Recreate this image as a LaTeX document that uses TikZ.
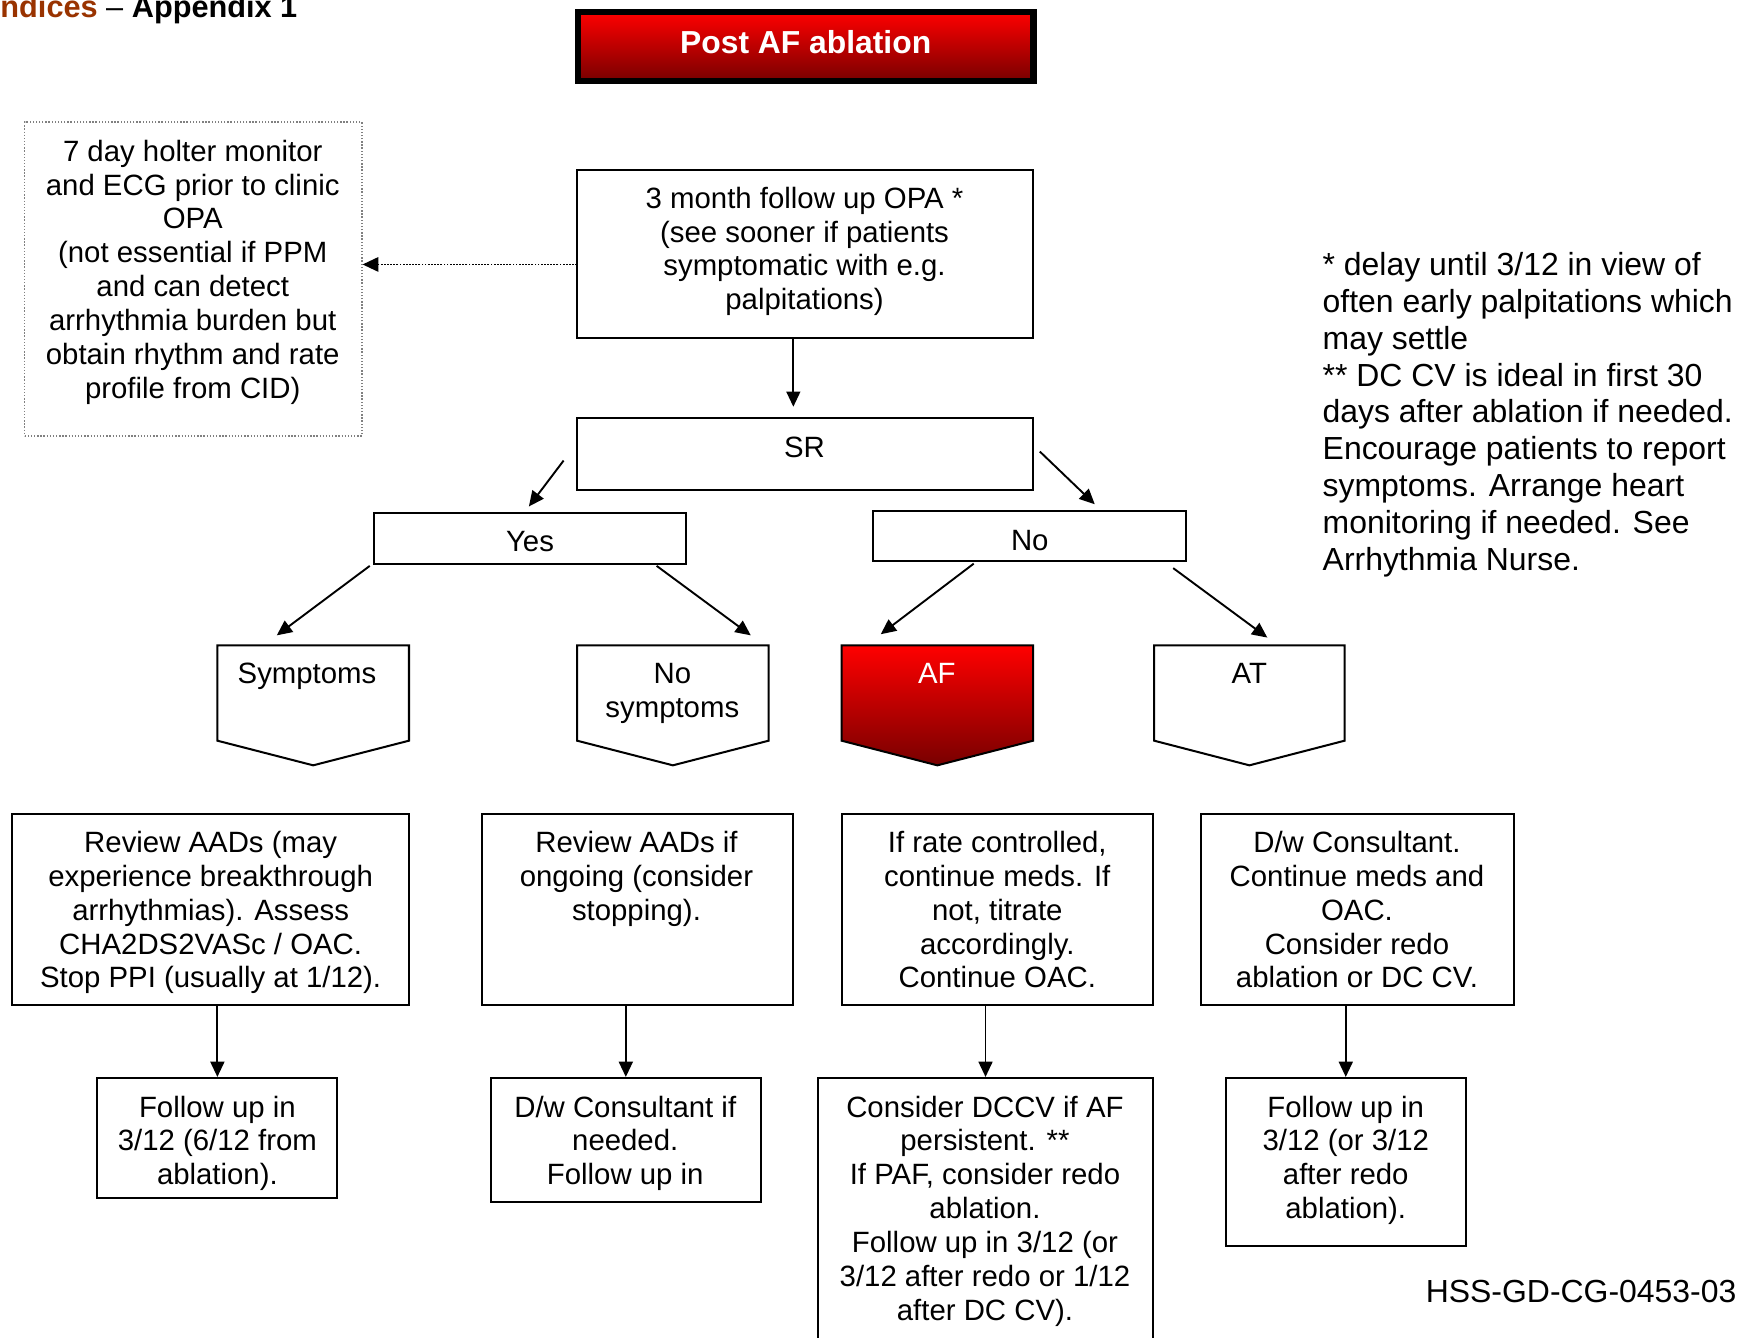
\documentclass[tikz,border=0pt]{standalone}
\usepackage{fontspec}
\setmainfont{Liberation Sans}
\usetikzlibrary{arrows.meta,fit}
\definecolor{hdrcol}{RGB}{153,51,0}
\definecolor{dkred}{RGB}{120,0,0}
\newcommand\bodyfnt{\fontsize{13.1pt}{15.1pt}\selectfont}
\newcommand\notefnt{\fontsize{14.25pt}{16.45pt}\selectfont}
\begin{document}
\begin{tikzpicture}[x=0.5pt,y=-0.5pt,
  box/.style={draw, line width=0.9pt, inner sep=0pt},
  txt/.style={inner sep=0pt, align=center, font=\bodyfnt, anchor=north},
  arr/.style={line width=0.85pt, -{Triangle[length=6.8pt,width=6.2pt]}},
  darr/.style={line width=0.8pt, dash pattern=on 0.8pt off 0.6pt, -{Triangle[length=7pt,width=6.4pt]}},
  penta/.style={draw, line width=0.9pt},
]
\useasboundingbox (0,0) rectangle (1568,1194);
\clip (0,0) rectangle (1568,1194);

% heading
\node[anchor=base west, inner sep=0pt, font=\bfseries\fontsize{13.7pt}{16pt}\selectfont] (hdr) at (0,15.5) {\textcolor{hdrcol}{ndices} {\mdseries --} Appendix 1};

% title
\node[fit={(515.7,10.7) (922.3,72.3)}, inner sep=0pt, draw=black, line width=2.7pt, top color=red, bottom color=dkred] (title) {};
\node[inner sep=0pt, text=white, font=\bfseries\fontsize{14.2pt}{17pt}\selectfont] (titlet) at (719,38) {Post AF ablation};

% top box
\node[box, fit={(515,152) (922,302)}] (opa) {};
\node[txt] (opat) at (718,166.5) {3 month follow up OPA *\\(see sooner if patients\\symptomatic with e.g.\\palpitations)};

% holter box
\node[box, draw=gray, line width=0.6pt, dash pattern=on 0.6pt off 0.8pt, fit={(22,109) (323,389)}] (holter) {};
\node[txt] (holtert) at (172,124.5) {7 day holter monitor\\and ECG prior to clinic\\OPA\\(not essential if PPM\\and can detect\\arrhythmia burden but\\obtain rhythm and rate\\profile from CID)};

% SR, Yes, No
\node[box, fit={(515,373) (922,437)}] (sr) {};
\node[txt] (srt) at (718,389.5) {SR};
\node[box, fit={(334,458) (612,503)}] (yes) {};
\node[txt] (yest) at (473,473.5) {Yes};
\node[box, fit={(779,456) (1058,501)}] (no) {};
\node[txt] (not) at (919,472.5) {No};

% pentagons
\draw[penta] (194,576) -- (365,576) -- (365,661) -- (279.5,683) -- (194,661) -- cycle;
\node[txt] (sym) at (274,591.5) {Symptoms};
\draw[penta] (515,576) -- (686,576) -- (686,661) -- (600.5,683) -- (515,661) -- cycle;
\node[txt] (nosym) at (600,591.5) {No\\symptoms};
\draw[penta, top color=red, bottom color=dkred] (751,576) -- (922,576) -- (922,661) -- (836.5,683) -- (751,661) -- cycle;
\node[txt, text=white] (af) at (836,591.5) {AF};
\draw[penta] (1030,576) -- (1200,576) -- (1200,661) -- (1115,683) -- (1030,661) -- cycle;
\node[txt] (at) at (1115,591.5) {AT};

% action boxes
\node[box, fit={(11,726) (365,897)}] (a1) {};
\node[txt] (a1t) at (188,741.5) {Review AADs (may\\experience breakthrough\\arrhythmias). Assess\\CHA2DS2VASc / OAC.\\Stop PPI (usually at 1/12).};
\node[box, fit={(430,726) (708,897)}] (a2) {};
\node[txt] (a2t) at (568,741.5) {Review AADs if\\ongoing (consider\\stopping).};
\node[box, fit={(751,726) (1029,897)}] (a3) {};
\node[txt] (a3t) at (890,741.5) {If rate controlled,\\continue meds. If\\not, titrate\\accordingly.\\Continue OAC.};
\node[box, fit={(1072,726) (1351,897)}] (a4) {};
\node[txt] (a4t) at (1211,741.5) {D/w Consultant.\\Continue meds and\\OAC.\\Consider redo\\ablation or DC CV.};

% bottom boxes
\node[box, fit={(87,962) (301,1069)}] (b1) {};
\node[txt] (b1t) at (194,977.5) {Follow up in\\3/12 (6/12 from\\ablation).};
\node[box, fit={(438,962) (679,1073)}] (b2) {};
\node[txt] (b2t) at (558,977.5) {D/w Consultant if\\needed.\\Follow up in};
\node[box, fit={(730,962) (1029,1210)}] (b3) {};
\node[txt] (b3t) at (879,977.5) {Consider DCCV if AF\\persistent. **\\If PAF, consider redo\\ablation.\\Follow up in 3/12 (or\\3/12 after redo or 1/12\\after DC CV).};
\node[box, fit={(1094,962) (1308,1112)}] (b4) {};
\node[txt] (b4t) at (1201,977.5) {Follow up in\\3/12 (or 3/12\\after redo\\ablation).};

% notes
\node[anchor=north west, inner sep=0pt, align=left, font=\notefnt] (note) at (1180,224.8) {* delay until 3/12 in view of\\often early palpitations which\\may settle\\** DC CV is ideal in first 30\\days after ablation if needed.\\Encourage patients to report\\symptoms. Arrange heart\\monitoring if needed. See\\Arrhythmia Nurse.};
\node[anchor=east, inner sep=0pt, font=\notefnt] (code) at (1550,1153) {HSS-GD-CG-0453-03};

% connectors
\coordinate (d1) at (515,236);
\draw[darr] (d1) -- (holter.east |- d1);

\coordinate (c1) at (708,302);
\coordinate (c2) at (708,363);
\draw[arr] (c1) -- (c2);

\coordinate (s1) at (503,411); \coordinate (s2) at (472,452);
\draw[arr] (s1) -- (s2);
\coordinate (s3) at (928,403); \coordinate (s4) at (977,450);
\draw[arr] (s3) -- (s4);

\coordinate (y1) at (330,505); \coordinate (y2) at (247,567);
\draw[arr] (y1) -- (y2);
\coordinate (y3) at (586,505); \coordinate (y4) at (670,567);
\draw[arr] (y3) -- (y4);
\coordinate (n1) at (869,503); \coordinate (n2) at (786,566);
\draw[arr] (n1) -- (n2);
\coordinate (n3) at (1047,507); \coordinate (n4) at (1131,569);
\draw[arr] (n3) -- (n4);

\draw[arr] (a1.south -| b1.north) -- (b1.north);
\draw[arr] (a2.south -| b2.north) -- (b2.north);
\draw[arr] (a3.south -| b3.north) -- (b3.north);
\draw[arr] (a4.south -| b4.north) -- (b4.north);
\end{tikzpicture}
\end{document}
